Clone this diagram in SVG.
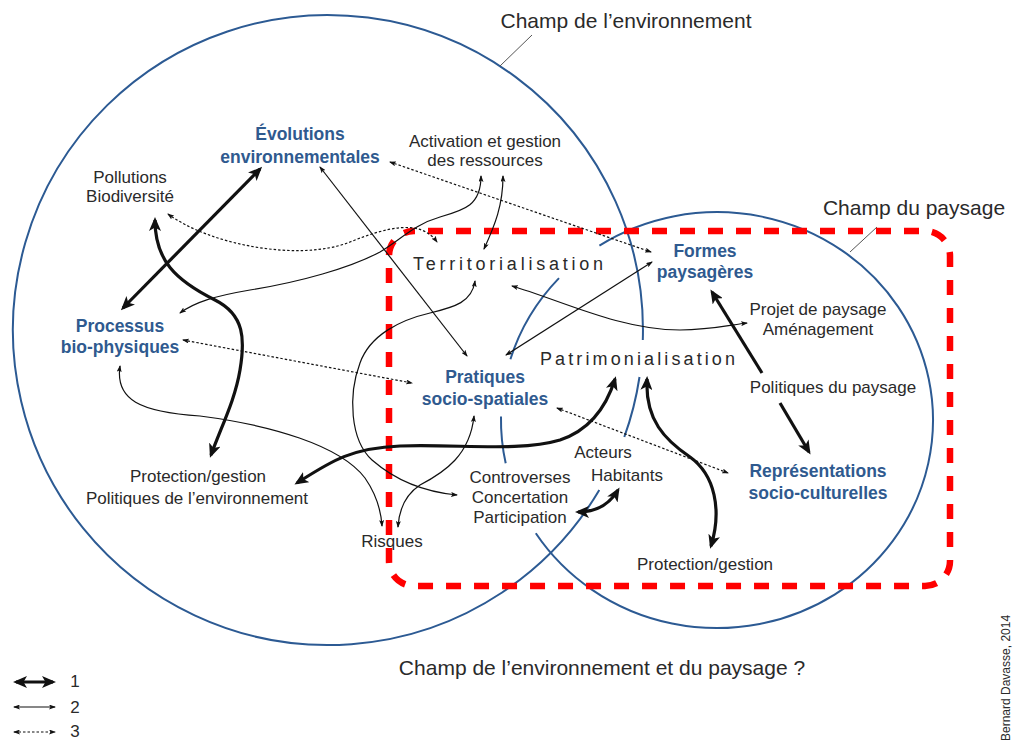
<svg xmlns="http://www.w3.org/2000/svg" width="1013" height="743" viewBox="0 0 1013 743">
<defs>
<style>
.t{font-family:"Liberation Sans",Arial,Helvetica,sans-serif;font-size:17px;fill:#2a2a2a;text-anchor:middle}
.k{font-weight:bold;fill:#2f5a8f;font-size:17.5px}
.big{font-size:21px}
.sp{font-size:18px;text-anchor:start}
.field{fill:none;stroke:#2c5a93;stroke-width:2}
.lead{fill:none;stroke:#555;stroke-width:1}
.thick{fill:none;stroke:#111;stroke-width:3.2;marker-start:url(#ah);marker-end:url(#ah)}
.one{fill:none;stroke:#111;stroke-width:3.2;marker-end:url(#ah)}
.thin{fill:none;stroke:#111;stroke-width:1.2;marker-start:url(#as);marker-end:url(#as)}
.dot{fill:none;stroke:#111;stroke-width:1.2;stroke-dasharray:2.5 2;marker-start:url(#as);marker-end:url(#as)}
</style>
<marker id="ah" viewBox="0 0 14 12" refX="11" refY="6" markerWidth="14" markerHeight="12" markerUnits="userSpaceOnUse" orient="auto-start-reverse"><path d="M0,0 L14,6 L0,12 L3.5,6 z" fill="#111"/></marker>
<marker id="as" viewBox="0 0 7 5" refX="6" refY="2.5" markerWidth="7" markerHeight="5" markerUnits="userSpaceOnUse" orient="auto-start-reverse"><path d="M0,0 L7,2.5 L0,5 L1.5,2.5 z" fill="#111"/></marker>
</defs>
<rect width="1013" height="743" fill="#fff"/>

<g id="champ-environnement">
<path class="field" d="M599.3,490 A315,315 0 1 1 642.8,340"/>
<path class="field" d="M639.5,377 A315,315 0 0 1 624.3,437"/>
<path class="lead" d="M500,66 L532,35"/>
<text class="t big" x="626" y="28">Champ de l’environnement</text>
</g>

<g id="champ-paysage">
<path class="field" d="M599.4,245.6 A216,208 0 1 1 535.8,533.3"/>
<path class="field" d="M559,278.1 A216,208 0 0 0 510.4,359.2"/>
<path class="field" d="M501,416.4 A216,208 0 0 0 505.7,463.2"/>
<path class="lead" d="M850,252 L877,227"/>
<text class="t big" x="914" y="215">Champ du paysage</text>
</g>

<g id="champ-commun">
<rect x="389" y="231" width="561" height="355" rx="25" fill="none" stroke="#ff0000" stroke-width="6.5" stroke-dasharray="15 13" stroke-dashoffset="14"/>
<text class="t big" x="602" y="675">Champ de l’environnement et du paysage ?</text>
</g>

<g id="connectors">
<path class="thick" d="M260,169 L123,308"/>
<path class="thick" d="M155,220 C155,260 175,280 215,300 C245,315 245,340 240,370 C235,400 222,425 211,455"/>
<path class="thick" d="M297,483 C330,462 350,448 400,446 C460,444 520,452 560,440 C590,430 606,408 615,379"/>
<path class="thick" d="M647,379 C645,420 665,440 690,457 C715,475 722,510 711,546"/>
<path class="one" d="M762,373 L712,292"/>
<path class="one" d="M780,403 L809,452"/>
<path class="thick" d="M578,512 Q605,512 618,490"/>

<path class="thin" d="M320,167 L467,356"/>
<path class="thin" d="M481,176 C481,205 465,210 440,217 C415,224 400,240 380,252 C350,268 300,282 250,290 C215,296 195,302 180,313"/>
<path class="thin" d="M503,176 C503,205 495,225 484,249"/>
<path class="thin" d="M475,281 C472,302 455,307 430,313 C400,320 370,335 360,363 C348,395 350,440 372,460 C395,480 425,492 457,495"/>
<path class="thin" d="M506,355 L652,262"/>
<path class="thin" d="M512,286 C560,300 620,330 680,330 C710,330 730,325 747,323"/>
<path class="thin" d="M120,366 C115,400 140,412 200,416 C270,425 340,445 365,478 C376,494 381,510 382,526"/>
<path class="thin" d="M474,416 C470,455 445,472 420,485 C405,495 399,510 398,527"/>

<path class="dot" d="M390,162 L651,252"/>
<path class="dot" d="M168,214 C210,245 300,262 350,242 C385,228 420,218 437,242"/>
<path class="dot" d="M183,340 L412,383"/>
<path class="dot" d="M557,408 L728,473"/>
</g>

<g id="evolutions"><text class="t k" x="300" y="140">Évolutions</text><text class="t k" x="300" y="163">environnementales</text></g>
<g id="pollutions"><text class="t" x="130" y="183">Pollutions</text><text class="t" x="130" y="202">Biodiversité</text></g>
<g id="activation"><text class="t" x="485" y="147">Activation et gestion</text><text class="t" x="485" y="166">des ressources</text></g>
<g id="territorialisation"><text class="t sp" x="413" y="270" textLength="190" lengthAdjust="spacing">Territorialisation</text></g>
<g id="formes"><text class="t k" x="705" y="257">Formes</text><text class="t k" x="705" y="278">paysagères</text></g>
<g id="projet"><text class="t" x="818" y="315">Projet de paysage</text><text class="t" x="818" y="335">Aménagement</text></g>
<g id="processus"><text class="t k" x="120" y="332">Processus</text><text class="t k" x="120" y="353">bio-physiques</text></g>
<g id="patrimonialisation"><text class="t sp" x="540" y="365" textLength="195" lengthAdjust="spacing">Patrimonialisation</text></g>
<g id="pratiques"><text class="t k" x="485" y="383">Pratiques</text><text class="t k" x="485" y="405">socio-spatiales</text></g>
<g id="politiques-paysage"><text class="t" x="833" y="393">Politiques du paysage</text></g>
<g id="acteurs"><text class="t" x="603" y="458">Acteurs</text><text class="t" x="627" y="481">Habitants</text></g>
<g id="controverses"><text class="t" x="520" y="483">Controverses</text><text class="t" x="520" y="503">Concertation</text><text class="t" x="520" y="523">Participation</text></g>
<g id="risques"><text class="t" x="392" y="547">Risques</text></g>
<g id="protection-env"><text class="t" x="198" y="482">Protection/gestion</text><text class="t" x="197" y="504">Politiques de l’environnement</text></g>
<g id="representations"><text class="t k" x="818" y="477">Représentations</text><text class="t k" x="818" y="499">socio-culturelles</text></g>
<g id="protection-paysage"><text class="t" x="705" y="570">Protection/gestion</text></g>

<g id="legend">
<path class="thick" d="M16,682 L53,682"/>
<path class="thin" d="M14,707 L55,707"/>
<path class="dot" d="M14,732 L55,732"/>
<text class="t" x="75" y="687">1</text>
<text class="t" x="75" y="713">2</text>
<text class="t" x="75" y="737">3</text>
</g>

<g id="credit"><text class="t" style="font-size:12px;text-anchor:start" transform="translate(1010,741) rotate(-90)">Bernard Davasse, 2014</text></g>
</svg>
